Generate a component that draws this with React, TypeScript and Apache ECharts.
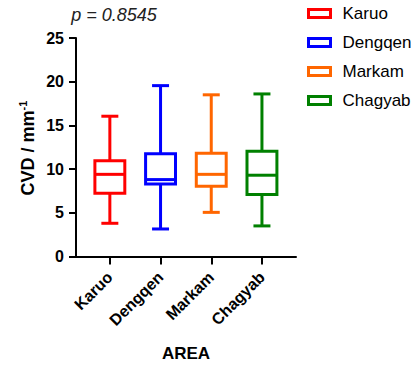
import React, { useEffect, useRef } from "react";
import * as echarts from "echarts";

// Study areas and their colours
const areas = ["Karuo", "Dengqen", "Markam", "Chagyab"];
const colors = ["#FF0000", "#0000FF", "#FF6600", "#008000"];

// Five-number summaries of CVD (mm^-1) per area: [min, q1, median, q3, max]
const karuo = [3.8, 7.25, 9.4, 10.95, 16.05];
const dengqen = [3.15, 8.3, 8.8, 11.75, 19.55];
const markam = [5.05, 8.05, 9.4, 11.8, 18.5];
const chagyab = [3.5, 7.1, 9.3, 12.05, 18.6];
const summaries = [karuo, dengqen, markam, chagyab];

// Value axis ticks
const yTicks = [0, 5, 10, 15, 20, 25];
const pText = "p = 0.8545";

const FONT = "Liberation Sans, Arial, Helvetica, sans-serif";

function renderBox(params: any, api: any) {
  const idx = api.value(0);
  const vMin = api.value(1);
  const q1 = api.value(2);
  const med = api.value(3);
  const q3 = api.value(4);
  const vMax = api.value(5);
  const band = api.size([1, 0])[0];
  const half = (band * 0.59) / 2;
  const cap = (band * 0.335) / 2;
  const pMin = api.coord([idx, vMin]);
  const pQ1 = api.coord([idx, q1]);
  const pMed = api.coord([idx, med]);
  const pQ3 = api.coord([idx, q3]);
  const pMax = api.coord([idx, vMax]);
  const x = pMin[0];
  const color = api.visual("color");
  const st = { stroke: color, lineWidth: 3, fill: null, lineCap: "butt" };
  return {
    type: "group",
    children: [
      { type: "line", shape: { x1: x, y1: pMin[1], x2: x, y2: pQ1[1] }, style: st },
      { type: "line", shape: { x1: x, y1: pQ3[1], x2: x, y2: pMax[1] }, style: st },
      { type: "line", shape: { x1: x - cap, y1: pMin[1], x2: x + cap, y2: pMin[1] }, style: st },
      { type: "line", shape: { x1: x - cap, y1: pMax[1], x2: x + cap, y2: pMax[1] }, style: st },
      {
        type: "rect",
        shape: { x: x - half, y: pQ3[1], width: half * 2, height: pQ1[1] - pQ3[1] },
        style: { stroke: color, lineWidth: 3, fill: "#ffffff" },
      },
      { type: "line", shape: { x1: x - half, y1: pMed[1], x2: x + half, y2: pMed[1] }, style: st },
    ],
  };
}

export default function App() {
  const ref = useRef<HTMLDivElement>(null);

  useEffect(() => {
    if (!ref.current) return;
    const chart = echarts.init(ref.current, undefined, { renderer: "svg" });

    const series = areas.map((name, i) => ({
      name,
      type: "custom",
      xAxisIndex: 1,
      yAxisIndex: 1,
      itemStyle: { color: colors[i] },
      encode: { x: 0, y: [1, 2, 3, 4, 5] },
      data: [[i, ...summaries[i]]],
      renderItem: renderBox,
      z: 3,
    }));

    chart.setOption({
      animation: false,
      backgroundColor: "#ffffff",
      grid: [
        { left: 76, top: 38, width: 220, height: 218.5, containLabel: false },
        { left: 84.5, top: 38, width: 202.8, height: 218.5, containLabel: false },
      ],
      xAxis: [
        {
          type: "value",
          gridIndex: 0,
          min: 0,
          max: 1,
          axisLine: { show: true, lineStyle: { color: "#000", width: 2 } },
          axisTick: { show: false },
          axisLabel: { show: false },
          splitLine: { show: false },
        },
        {
          type: "category",
          gridIndex: 1,
          data: areas,
          boundaryGap: true,
          axisLine: { show: false },
          axisTick: { show: true, alignWithLabel: true, length: 8, lineStyle: { color: "#000", width: 2 } },
          axisLabel: {
            rotate: 45,
            margin: 18,
            color: "#000",
            fontFamily: FONT,
            fontWeight: "bold",
            fontSize: 16,
          },
          splitLine: { show: false },
        },
      ],
      yAxis: [
        {
          type: "value",
          gridIndex: 0,
          min: yTicks[0],
          max: yTicks[yTicks.length - 1],
          interval: 5,
          axisLine: { show: true, lineStyle: { color: "#000", width: 2 } },
          axisTick: { show: true, length: 7, lineStyle: { color: "#000", width: 2 } },
          axisLabel: {
            margin: 12,
            color: "#000",
            fontFamily: FONT,
            fontWeight: "bold",
            fontSize: 16,
          },
          splitLine: { show: false },
        },
        {
          type: "value",
          gridIndex: 1,
          min: yTicks[0],
          max: yTicks[yTicks.length - 1],
          show: false,
        },
      ],
      legend: {
        orient: "vertical",
        left: 302,
        top: 0,
        itemWidth: 22,
        itemHeight: 8,
        itemGap: 12,
        icon: "rect",
        textStyle: {
          fontFamily: FONT,
          fontSize: 17,
          color: "#000",
          padding: [0, 0, 0, 7],
        },
        data: areas.map((name, i) => ({
          name,
          itemStyle: { color: "#ffffff", borderColor: colors[i], borderWidth: 3 },
        })),
      },
      graphic: [
        {
          type: "text",
          x: 114,
          y: 15,
          style: {
            text: pText,
            fontFamily: FONT,
            fontSize: 18,
            fontStyle: "italic",
            fill: "#222",
            align: "center",
            verticalAlign: "middle",
          },
        },
        {
          type: "text",
          x: 28,
          y: 148,
          rotation: Math.PI / 2,
          style: {
            text: "{a|CVD / mm}{s|-1}",
            align: "center",
            verticalAlign: "middle",
            fill: "#000",
            rich: {
              a: { fontFamily: FONT, fontSize: 18, fontWeight: "bold", fill: "#000", lineHeight: 22 },
              s: { fontFamily: FONT, fontSize: 11, fontWeight: "bold", fill: "#000", verticalAlign: "top", lineHeight: 22 },
            },
          },
        },
        {
          type: "text",
          x: 186,
          y: 353,
          style: {
            text: "AREA",
            fontFamily: FONT,
            fontSize: 17,
            fontWeight: "bold",
            fill: "#000",
            align: "center",
            verticalAlign: "middle",
          },
        },
      ],
      series,
    });

    return () => chart.dispose();
  }, []);

  return (
    <div
      ref={ref}
      style={{ position: "fixed", left: 0, top: 0, width: 420, height: 371 }}
    />
  );
}
